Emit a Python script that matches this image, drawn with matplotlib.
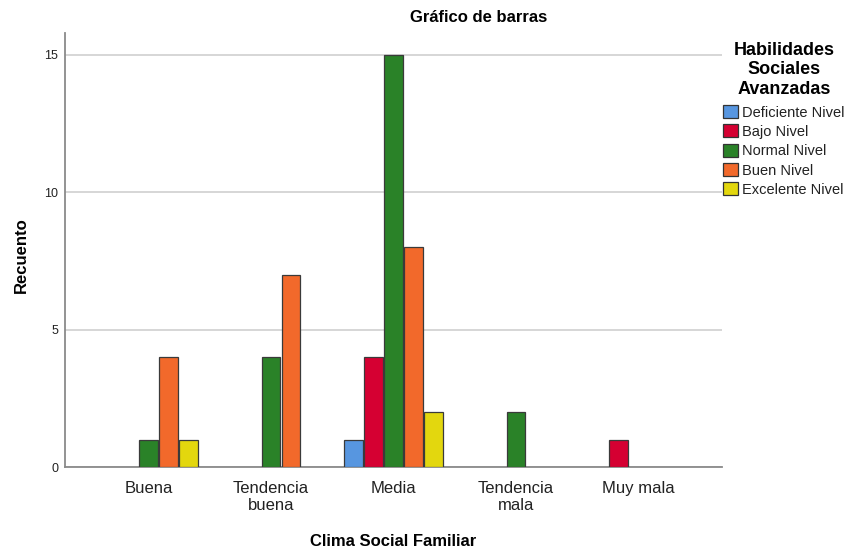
import numpy as np
import matplotlib
matplotlib.use('Agg')
import matplotlib.pyplot as plt
from matplotlib.patches import Patch

plt.rcParams['font.family'] = ['Liberation Sans', 'DejaVu Sans']

categories = ['Buena', 'Tendencia\nbuena', 'Media', 'Tendencia\nmala', 'Muy mala']
series = ['Deficiente Nivel', 'Bajo Nivel', 'Normal Nivel', 'Buen Nivel', 'Excelente Nivel']
colors = ['#5796e0', '#d50032', '#2a8228', '#f2692b', '#e3d70e']

deficiente = [0, 0, 1, 0, 0]
bajo = [0, 0, 4, 0, 1]
normal = [1, 4, 15, 2, 0]
buen = [4, 7, 8, 0, 0]
excelente = [1, 0, 2, 0, 0]
values = [deficiente, bajo, normal, buen, excelente]

fig = plt.figure(figsize=(8.47, 5.51), dpi=100)
ax = fig.add_axes([65/847, 1-467/551, (722-65)/847, (467-33)/551])

x = np.arange(len(categories))
slot = 0.163
width = 0.15
for i, (name, vals, c) in enumerate(zip(series, values, colors)):
    vals = np.array(vals, dtype=float)
    m = vals > 0
    ax.bar(x[m] + (i - 2) * slot, vals[m], width=width, color=c,
           edgecolor='#3a3a3a', linewidth=0.9, zorder=3)

ax.set_xlim(-0.68, 4.68)
ax.set_ylim(0, 15.8)
ax.set_yticks([0, 5, 10, 15])
ax.set_xticks(x)
ax.set_xticklabels(categories, fontsize=12, color='#222222', linespacing=1.15)
ax.tick_params(axis='y', length=0, labelsize=9, pad=5, colors='#222222')
ax.tick_params(axis='x', length=0, pad=10)
ax.grid(axis='y', color='#cfcfcf', linewidth=1.2, zorder=0)
for s in ['top', 'right']:
    ax.spines[s].set_visible(False)
for s in ['left', 'bottom']:
    ax.spines[s].set_color('#8a8a8a')
    ax.spines[s].set_linewidth(1.3)

fig.text(479/847, 1-18/551, 'Gráfico de barras', ha='center', va='center',
         fontsize=12, fontweight='bold')
fig.text(21/847, 1-255/551, 'Recuento', rotation=90, ha='center', va='center',
         fontsize=12, fontweight='bold')
fig.text(393/847, 1-541/551, 'Clima Social Familiar', ha='center', va='center',
         fontsize=12, fontweight='bold')
fig.text(784/847, 1-70/551, 'Habilidades\nSociales\nAvanzadas', ha='center', va='center',
         fontsize=13, fontweight='bold', linespacing=1.18)

handles = [Patch(facecolor=c, edgecolor='#333333', linewidth=0.9) for c in colors]
leg = fig.legend(handles, series, loc='upper left', bbox_to_anchor=(723/847, 1-105/551),
                 frameon=False, fontsize=10.5, handlelength=1.0, handleheight=1.0,
                 handletextpad=0.3, labelspacing=0.33, borderaxespad=0, borderpad=0)
for t in leg.get_texts():
    t.set_color('#222222')

fig.savefig('out.png', dpi=100)
